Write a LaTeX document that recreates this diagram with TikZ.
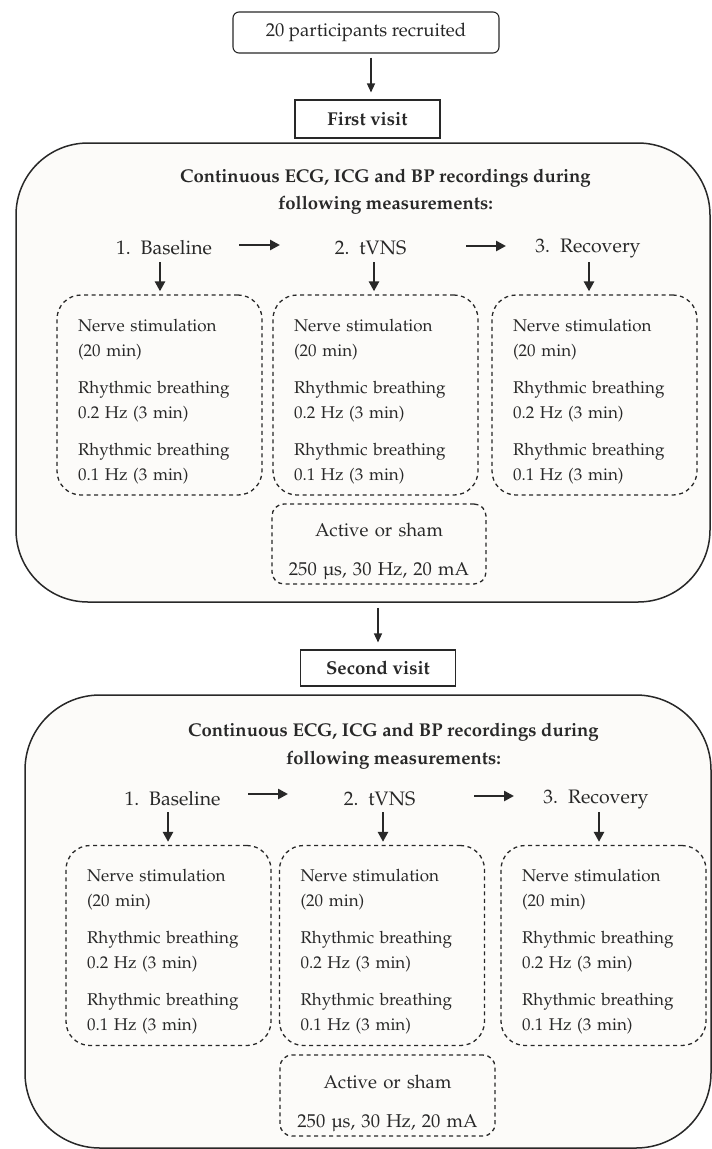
\documentclass[tikz,border=0pt]{standalone}
\usepackage[T1]{fontenc}
\usepackage{mathpazo}
\usetikzlibrary{arrows.meta,calc}
\definecolor{panelfill}{RGB}{252,251,249}
\definecolor{ink}{RGB}{40,40,40}
\newcommand\myfs{\fontsize{17}{25}\selectfont}
\newcommand\headfs{\fontsize{18.6}{25}\selectfont}
\newcommand\boxtext{\rule{0pt}{25.5pt}Nerve stimulation\\(20 min)\\[12pt]Rhythmic breathing\\0.2 Hz (3 min)\\[12pt]Rhythmic breathing\\0.1 Hz (3 min)}
\newcommand\activetext{\rule{0pt}{28.5pt}Active or sham\\[14pt]250 \textmu s, 30 Hz, 20 mA}
\tikzset{
  panel/.style={draw=ink, line width=1.5pt, fill=panelfill, rounded corners=72pt},
  headbox/.style={draw=ink, line width=1.1pt, fill=white, inner sep=0pt, text=ink, font=\headfs},
  titletext/.style={align=center, text=ink, font=\fontsize{18.5}{27}\selectfont\bfseries},
  stepnode/.style={inner sep=0pt, minimum height=28pt, text=ink, font=\fontsize{19.5}{25}\selectfont},
  dbox/.style={draw=ink, line width=1.3pt, dash pattern=on 4pt off 3.5pt, rounded corners=24pt,
    minimum width=205pt, minimum height=200pt, text width=163pt, inner xsep=21pt, inner ysep=0pt,
    align=left, text=ink, font=\myfs},
  abox/.style={draw=ink, line width=1.3pt, dash pattern=on 4pt off 3.5pt, rounded corners=12pt,
    minimum width=214pt, minimum height=80pt, text width=204pt, inner xsep=5pt, inner ysep=0pt,
    align=center, text=ink, font=\headfs},
  bigarrow/.style={draw=ink, line width=2.6pt, -{Triangle[length=10pt,width=10pt]}},
  smallarrow/.style={draw=ink, line width=1.3pt, -{Triangle[length=9pt,width=8pt]}}
}
\begin{document}
\begin{tikzpicture}[x=1pt,y=-1pt]
\useasboundingbox (0,0) rectangle (712,1149);
% top
\node[headbox, rounded corners=6pt, minimum width=266pt, minimum height=41pt] (top) at (366,32.5) {20 participants recruited};
\node[headbox, minimum width=145pt, minimum height=38pt, font=\headfs\bfseries] (fv) at (367.5,119) {First visit};
\draw[smallarrow] ($(top.south)+(5,4)$) -- ($(top.south |- fv.north)+(5,-7)$);
% panel 1
\node[panel, minimum width=694pt, minimum height=459pt] (p1) at (363,372.5) {};
\node[titletext] (h1) at (385.5,191.5) {Continuous ECG, ICG and BP recordings during\\following measurements:};
\node[stepnode] (b1) at (164,248) {1.\hspace{10pt}Baseline};
\node[stepnode] (t1) at (370.5,248) {2.\hspace{10pt}tVNS};
\node[stepnode] (r1) at (588,248) {3.\hspace{10pt}Recovery};
\node[dbox] (d1a) at (159.5,395) {\boxtext};
\node[dbox] (d1b) at (375.5,395) {\boxtext};
\node[dbox] (d1c) at (594.5,395) {\boxtext};
\node[abox] (a1) at (379,544) {\activetext};
\draw[bigarrow] ($(b1.center)+(75,-3)$) -- ($(t1.center)+(-90.5,-3)$);
\draw[bigarrow] ($(t1.center)+(95.5,-2)$) -- ($(r1.center)+(-82,-2)$);
\draw[bigarrow] ($(b1.south)+(-4,0)$) -- ($(b1.south |- d1a.north)+(-4,-3)$);
\draw[bigarrow] ($(t1.south)+(3.5,0)$) -- ($(t1.south |- d1b.north)+(3.5,-3)$);
\draw[bigarrow] ($(r1.south)+(1,0)$) -- ($(r1.south |- d1c.north)+(1,-3)$);
% second visit
\node[headbox, minimum width=155pt, minimum height=36pt, font=\headfs\bfseries] (sv) at (378,668) {Second visit};
\draw[smallarrow] ($(p1.south -| sv.north)+(0,5)$) -- ($(sv.north)+(0,-7)$);
% panel 2
\node[panel, rounded corners=75pt, minimum width=686pt, minimum height=453pt] (p2) at (368,921.5) {};
\node[titletext, font=\fontsize{18.5}{28}\selectfont\bfseries] (h2) at (393.5,746) {Continuous ECG, ICG and BP recordings during\\following measurements:};
\node[stepnode] (b2) at (172.5,799) {1.\hspace{10pt}Baseline};
\node[stepnode] (t2) at (379.5,799) {2.\hspace{10pt}tVNS};
\node[stepnode] (r2) at (596,799) {3.\hspace{10pt}Recovery};
\node[dbox] (d2a) at (168.5,945.5) {\boxtext};
\node[dbox] (d2b) at (382,945.5) {\boxtext};
\node[dbox] (d2c) at (603.5,945.5) {\boxtext};
\node[abox, minimum width=215pt, minimum height=81pt] (a2) at (387.5,1095.5) {\activetext};
\draw[bigarrow] ($(b2.center)+(75.5,-5)$) -- ($(t2.center)+(-91.5,-5)$);
\draw[bigarrow] ($(t2.center)+(94.5,-3)$) -- ($(r2.center)+(-82,-3)$);
\draw[bigarrow] ($(b2.south)+(-4.5,-1)$) -- ($(b2.south |- d2a.north)+(-4.5,-3)$);
\draw[bigarrow] ($(t2.south)+(3.5,-1)$) -- ($(t2.south |- d2b.north)+(3.5,-3)$);
\draw[bigarrow] ($(r2.south)+(3,-1)$) -- ($(r2.south |- d2c.north)+(3,-3)$);
\end{tikzpicture}
\end{document}
